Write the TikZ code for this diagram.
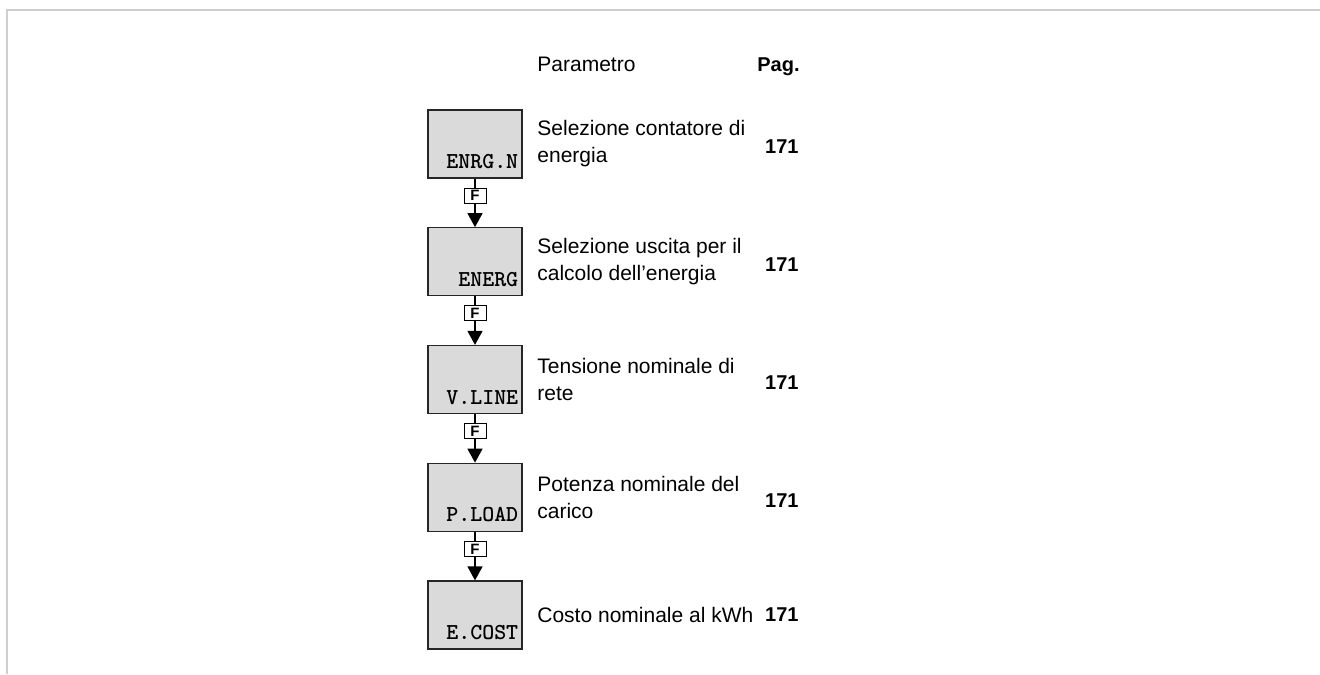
\documentclass[tikz,border=0pt]{standalone}
\usepackage{fontspec}
\setmainfont{Liberation Sans}
\usepackage{tikz}
\usepackage{xcolor}
\usetikzlibrary{arrows.meta}
\definecolor{lcdgrey}{HTML}{DADADA}
\definecolor{framegrey}{HTML}{CFCFCF}

\begin{document}
\begin{tikzpicture}[
  x=0.5pt, y=0.5pt,
  lcd/.style={draw=black!85, line width=0.6pt, fill=lcdgrey,
              minimum width=47pt, minimum height=34pt, inner sep=0pt},
  lcdtxt/.style={anchor=base east, inner sep=0pt,
                 font=\ttfamily\bfseries\fontsize{11.4}{12}\selectfont},
  desc/.style={anchor=west, align=left, inner sep=0pt,
               font=\fontsize{10.5}{13.5}\selectfont},
  pg/.style={anchor=east, inner sep=0pt,
             font=\bfseries\fontsize{10}{12}\selectfont},
  fkey/.style={draw, fill=white, line width=0.5pt, inner sep=0pt,
               minimum width=11pt, minimum height=7.5pt,
               font=\bfseries\fontsize{7.5}{8}\selectfont},
  flow/.style={-{Triangle[length=7pt, width=7.5pt]}, line width=0.7pt},
]
\useasboundingbox (0,0) rectangle (1320,674);

% --- page frame (top and left edge only)
\draw[framegrey, line width=1pt] (7,0) -- (7,664) -- (1320,664);

% --- column headers
\node[desc, anchor=base west] (hpar) at (537,602) {Parametro};
\node[pg, anchor=base east] (hpag) at (800,602) {Pag.};

% --- display boxes, one per parameter
\node[lcd] (enrgn) at (475,530)    {};
\node[lcd] (energ) at (475,412.25) {};
\node[lcd] (vline) at (475,294.5)  {};
\node[lcd] (pload) at (475,176.75) {};
\node[lcd] (ecost) at (475,59)     {};

\node[lcdtxt] (enrgnL) at ([shift={(-4,10)}]enrgn.south east) {ENRG.N};
\node[lcdtxt] (energL) at ([shift={(-4,10)}]energ.south east) {ENERG};
\node[lcdtxt] (vlineL) at ([shift={(-4,10)}]vline.south east) {V.LINE};
\node[lcdtxt] (ploadL) at ([shift={(-4,10)}]pload.south east) {P.LOAD};
\node[lcdtxt] (ecostL) at ([shift={(-4,10)}]ecost.south east) {E.COST};

% --- descriptions and page numbers
\node[desc] (enrgnD) at (537,530)    {Selezione contatore di\\energia};
\node[desc] (energD) at (537,412.25) {Selezione uscita per il\\calcolo dell’energia};
\node[desc] (vlineD) at (537,294.5)  {Tensione nominale di\\rete};
\node[desc] (ploadD) at (537,176.75) {Potenza nominale del\\carico};
\node[desc] (ecostD) at (537,59)     {Costo nominale al kWh};

\node[pg] (enrgnP) at (799,527)    {171};
\node[pg] (energP) at (799,409.25) {171};
\node[pg] (vlineP) at (799,291.5)  {171};
\node[pg] (ploadP) at (799,173.75) {171};
\node[pg] (ecostP) at (799,59)     {171};

% --- F key steps from one parameter to the next
\draw[flow] (enrgn) -- node[fkey, pos=0.35] (f1) {F} (energ);
\draw[flow] (energ) -- node[fkey, pos=0.35] (f2) {F} (vline);
\draw[flow] (vline) -- node[fkey, pos=0.35] (f3) {F} (pload);
\draw[flow] (pload) -- node[fkey, pos=0.35] (f4) {F} (ecost);
\end{tikzpicture}
\end{document}
